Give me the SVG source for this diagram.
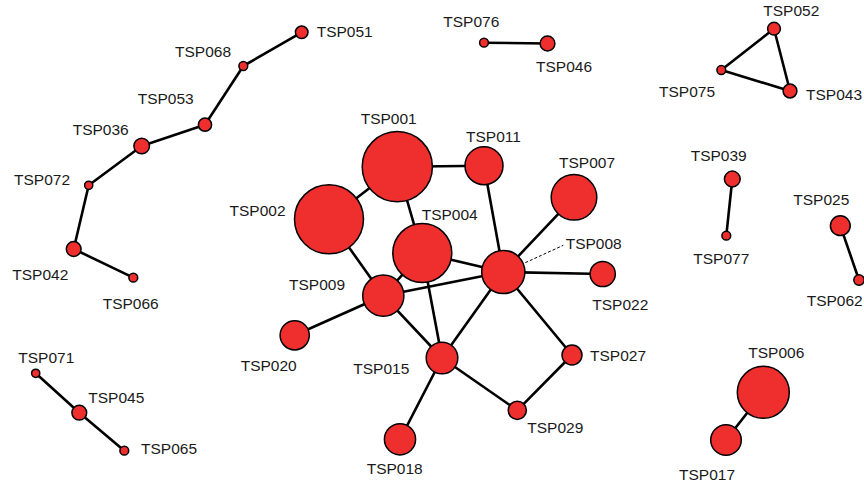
<svg xmlns="http://www.w3.org/2000/svg" width="864" height="487" viewBox="0 0 864 487">
<style>
.e{stroke:#000;stroke-width:2.6;fill:none;stroke-linecap:round}
.n{fill:#ee2f2e;stroke:#000;stroke-width:1.5}
text{font-family:"Liberation Sans",Arial,sans-serif;font-size:15.5px;fill:#1a1a1a}
.lead{stroke:#000;stroke-width:1;stroke-dasharray:3 2;fill:none}
</style>
<rect width="864" height="487" fill="#fff"/>
<g id="edges">
<line class="e" x1="301.7" y1="32.3" x2="243.3" y2="66"/>
<line class="e" x1="243.3" y1="66" x2="205" y2="124.7"/>
<line class="e" x1="205" y1="124.7" x2="141.7" y2="146"/>
<line class="e" x1="141.7" y1="146" x2="88.7" y2="185.3"/>
<line class="e" x1="88.7" y1="185.3" x2="73.7" y2="249"/>
<line class="e" x1="73.7" y1="249" x2="133.3" y2="277.7"/>
<line class="e" x1="484" y1="42.7" x2="547.5" y2="43.5"/>
<line class="e" x1="774" y1="28.7" x2="721.3" y2="70"/>
<line class="e" x1="774" y1="28.7" x2="790" y2="91"/>
<line class="e" x1="721.3" y1="70" x2="790" y2="91"/>
<line class="e" x1="732.3" y1="179" x2="726.3" y2="235.7"/>
<line class="e" x1="840.3" y1="225.7" x2="859" y2="280"/>
<line class="e" x1="35.7" y1="373.3" x2="79.3" y2="412.7"/>
<line class="e" x1="79.3" y1="412.7" x2="124.3" y2="450.7"/>
<line class="e" x1="763.3" y1="392.3" x2="726" y2="440"/>
<line class="e" x1="397.3" y1="166.7" x2="329" y2="219.3"/>
<line class="e" x1="397.3" y1="166.7" x2="484" y2="165.7"/>
<line class="e" x1="397.3" y1="166.7" x2="422.3" y2="253"/>
<line class="e" x1="484" y1="165.7" x2="503.3" y2="272"/>
<line class="e" x1="574" y1="197.3" x2="503.3" y2="272"/>
<line class="e" x1="422.3" y1="253" x2="503.3" y2="272"/>
<line class="e" x1="503.3" y1="272" x2="602.7" y2="274"/>
<line class="e" x1="329" y1="219.3" x2="383.3" y2="295.7"/>
<line class="e" x1="383.3" y1="295.7" x2="503.3" y2="272"/>
<line class="e" x1="383.3" y1="295.7" x2="294.7" y2="335.3"/>
<line class="e" x1="383.3" y1="295.7" x2="442" y2="358"/>
<line class="e" x1="422.3" y1="253" x2="383.3" y2="295.7"/>
<line class="e" x1="422.3" y1="253" x2="442" y2="358"/>
<line class="e" x1="503.3" y1="272" x2="442" y2="358"/>
<line class="e" x1="503.3" y1="272" x2="572" y2="355"/>
<line class="e" x1="442" y1="358" x2="517.3" y2="410.3"/>
<line class="e" x1="572" y1="355" x2="517.3" y2="410.3"/>
<line class="e" x1="442" y1="358" x2="400" y2="439.3"/>
<line class="lead" x1="525.3" y1="262.7" x2="563.3" y2="245.3"/>
</g>
<g id="TSP051"><circle class="n" cx="301.7" cy="32.3" r="6.3"/><text x="316.7" y="37.3">TSP051</text></g>
<g id="TSP068"><circle class="n" cx="243.3" cy="66" r="4.4"/><text x="175" y="57.3">TSP068</text></g>
<g id="TSP053"><circle class="n" cx="205" cy="124.7" r="6.6"/><text x="137.7" y="104">TSP053</text></g>
<g id="TSP036"><circle class="n" cx="141.7" cy="146" r="7.8"/><text x="72.7" y="135">TSP036</text></g>
<g id="TSP072"><circle class="n" cx="88.7" cy="185.3" r="4.1"/><text x="14" y="185.3">TSP072</text></g>
<g id="TSP042"><circle class="n" cx="73.7" cy="249" r="7.4"/><text x="12.3" y="280">TSP042</text></g>
<g id="TSP066"><circle class="n" cx="133.3" cy="277.7" r="4.4"/><text x="102.7" y="309.3">TSP066</text></g>
<g id="TSP076"><circle class="n" cx="484" cy="42.7" r="4.4"/><text x="443.3" y="27.3">TSP076</text></g>
<g id="TSP046"><circle class="n" cx="547.5" cy="43.5" r="7.4"/><text x="536" y="72">TSP046</text></g>
<g id="TSP052"><circle class="n" cx="774" cy="28.7" r="6.4"/><text x="763.3" y="16">TSP052</text></g>
<g id="TSP075"><circle class="n" cx="721.3" cy="70" r="4.4"/><text x="659" y="96.7">TSP075</text></g>
<g id="TSP043"><circle class="n" cx="790" cy="91" r="6.9"/><text x="806" y="100">TSP043</text></g>
<g id="TSP039"><circle class="n" cx="732.3" cy="179" r="7.9"/><text x="690.7" y="161">TSP039</text></g>
<g id="TSP077"><circle class="n" cx="726.3" cy="235.7" r="4.4"/><text x="693.3" y="264">TSP077</text></g>
<g id="TSP025"><circle class="n" cx="840.3" cy="225.7" r="9.9"/><text x="793.3" y="205">TSP025</text></g>
<g id="TSP062"><circle class="n" cx="859" cy="280" r="5.2"/><text x="806.7" y="305.7">TSP062</text></g>
<g id="TSP071"><circle class="n" cx="35.7" cy="373.3" r="4.1"/><text x="18.3" y="362.7">TSP071</text></g>
<g id="TSP045"><circle class="n" cx="79.3" cy="412.7" r="7.4"/><text x="88.3" y="403.3">TSP045</text></g>
<g id="TSP065"><circle class="n" cx="124.3" cy="450.7" r="4.4"/><text x="141" y="454.3">TSP065</text></g>
<g id="TSP006"><circle class="n" cx="763.3" cy="392.3" r="26"/><text x="748.3" y="358.3">TSP006</text></g>
<g id="TSP017"><circle class="n" cx="726" cy="440" r="15.3"/><text x="679" y="480">TSP017</text></g>
<g id="TSP001"><circle class="n" cx="397.3" cy="166.7" r="35.1"/><text x="360.7" y="124">TSP001</text></g>
<g id="TSP011"><circle class="n" cx="484" cy="165.7" r="19"/><text x="466" y="142">TSP011</text></g>
<g id="TSP007"><circle class="n" cx="574" cy="197.3" r="22.8"/><text x="559" y="168.3">TSP007</text></g>
<g id="TSP002"><circle class="n" cx="329" cy="219.3" r="34.5"/><text x="229.5" y="216">TSP002</text></g>
<g id="TSP004"><circle class="n" cx="422.3" cy="253" r="29.5"/><text x="421.7" y="220">TSP004</text></g>
<g id="TSP008"><circle class="n" cx="503.3" cy="272" r="21.6"/><text x="565.7" y="248.7">TSP008</text></g>
<g id="TSP022"><circle class="n" cx="602.7" cy="274" r="12.6"/><text x="592.3" y="310">TSP022</text></g>
<g id="TSP009"><circle class="n" cx="383.3" cy="295.7" r="20.6"/><text x="289" y="290">TSP009</text></g>
<g id="TSP020"><circle class="n" cx="294.7" cy="335.3" r="14.6"/><text x="240.7" y="371">TSP020</text></g>
<g id="TSP015"><circle class="n" cx="442" cy="358" r="15.8"/><text x="353.3" y="374">TSP015</text></g>
<g id="TSP027"><circle class="n" cx="572" cy="355" r="10"/><text x="590" y="360.7">TSP027</text></g>
<g id="TSP029"><circle class="n" cx="517.3" cy="410.3" r="9.1"/><text x="527.3" y="433.3">TSP029</text></g>
<g id="TSP018"><circle class="n" cx="400" cy="439.3" r="15.6"/><text x="366.7" y="474">TSP018</text></g>
</svg>
